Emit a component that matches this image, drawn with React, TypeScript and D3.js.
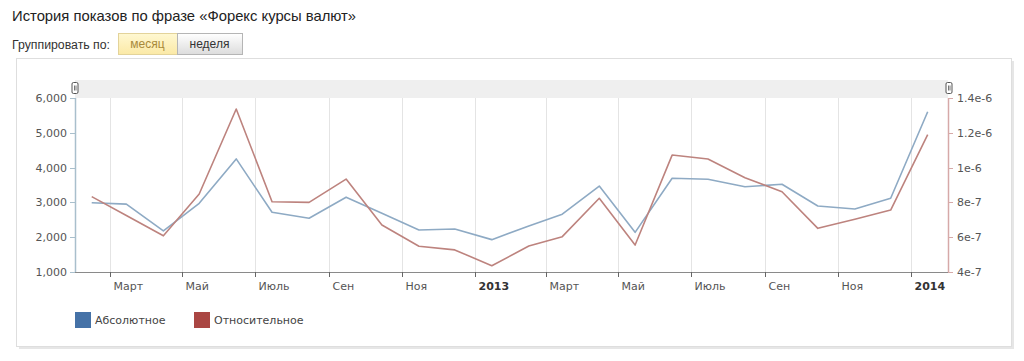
import { useRef, useEffect } from 'react';
import * as d3 from 'd3';

// monthly points, mid-month, Feb 2012 .. Jan 2014
const months = [
  '2012-02', '2012-03', '2012-04', '2012-05', '2012-06', '2012-07', '2012-08', '2012-09',
  '2012-10', '2012-11', '2012-12', '2013-01', '2013-02', '2013-03', '2013-04', '2013-05',
  '2013-06', '2013-07', '2013-08', '2013-09', '2013-10', '2013-11', '2013-12', '2014-01',
];
const absolute = [
  2990, 2950, 2180, 2975, 4250, 2715, 2545, 3150,
  2690, 2205, 2235, 1930, 2320, 2660, 3470, 2140,
  3695, 3665, 3450, 3520, 2895, 2810, 3120, 5605,
];
const relative = [
  8.33e-7, 7.25e-7, 6.08e-7, 8.48e-7, 1.337e-6, 8.04e-7, 8.0e-7, 9.34e-7,
  6.7e-7, 5.48e-7, 5.27e-7, 4.36e-7, 5.49e-7, 6.03e-7, 8.24e-7, 5.55e-7,
  1.072e-6, 1.049e-6, 9.42e-7, 8.61e-7, 6.51e-7, 7.03e-7, 7.56e-7, 1.19e-6,
];
const leftTicks = [1000, 2000, 3000, 4000, 5000, 6000];
const rightTicks = [4e-7, 6e-7, 8e-7, 1e-6, 1.2e-6, 1.4e-6];
const xTicks = [
  '2012-03', '2012-05', '2012-07', '2012-09', '2012-11', '2013-01',
  '2013-03', '2013-05', '2013-07', '2013-09', '2013-11', '2014-01',
];
const monthNames = ['Янв', 'Фев', 'Март', 'Апр', 'Май', 'Июнь', 'Июль', 'Авг', 'Сен', 'Окт', 'Ноя', 'Дек'];
const seriesNames = ['Абсолютное', 'Относительное'];
const legendColors = ['#4572A7', '#AA4643'];

const W = 1024;
const H = 361;
const M = { left: 75, right: 948, top: 98, bottom: 272 };
const tickFont = 'Verdana, "DejaVu Sans", sans-serif';

export default function App() {
  const svgRef = useRef<SVGSVGElement>(null);

  useEffect(() => {
    if (!svgRef.current) return;
    const svg = d3.select(svgRef.current);
    svg.selectAll('*').remove();

    const parse = d3.utcParse('%Y-%m');
    const mid = (s: string) => d3.utcDay.offset(parse(s)!, 14);

    const x = d3.scaleUtc()
      .domain([parse('2012-02')!, parse('2014-02')!])
      .range([M.left, M.right]);
    const yL = d3.scaleLinear().domain([1000, 6000]).range([M.bottom, M.top]);
    const yR = d3.scaleLinear().domain([4e-7, 1.4e-6]).range([M.bottom, M.top]);

    // defs
    const defs = svg.append('defs');
    const g1 = defs.append('linearGradient').attr('id', 'btnOn').attr('x1', 0).attr('x2', 0).attr('y1', 0).attr('y2', 1);
    g1.append('stop').attr('offset', '0%').attr('stop-color', '#fff8d2');
    g1.append('stop').attr('offset', '100%').attr('stop-color', '#fbe9a6');
    const g2 = defs.append('linearGradient').attr('id', 'btnOff').attr('x1', 0).attr('x2', 0).attr('y1', 0).attr('y2', 1);
    g2.append('stop').attr('offset', '0%').attr('stop-color', '#ffffff');
    g2.append('stop').attr('offset', '100%').attr('stop-color', '#dcdcdc');

    svg.append('rect').attr('width', W).attr('height', H).attr('fill', '#fff');

    // header
    svg.append('text').attr('x', 12).attr('y', 21)
      .attr('font-family', 'Arial, "Liberation Sans", sans-serif').attr('font-size', 14.8).attr('fill', '#222')
      .text('История показов по фразе «Форекс курсы валют»');
    svg.append('text').attr('x', 12).attr('y', 49)
      .attr('font-family', 'Arial, "Liberation Sans", sans-serif').attr('font-size', 12.3).attr('fill', '#333')
      .text('Группировать по:');

    const buttons = [
      { label: 'месяц', x0: 118, x1: 177, fill: 'url(#btnOn)', stroke: '#e3d39a', color: '#a88a3a' },
      { label: 'неделя', x0: 177, x1: 242, fill: 'url(#btnOff)', stroke: '#b5b5b5', color: '#333' },
    ];
    buttons.forEach(b => {
      svg.append('rect').attr('x', b.x0 + 0.5).attr('y', 33.5).attr('width', b.x1 - b.x0).attr('height', 21)
        .attr('fill', b.fill).attr('stroke', b.stroke);
      svg.append('text').attr('x', (b.x0 + b.x1) / 2).attr('y', 48).attr('text-anchor', 'middle')
        .attr('font-family', 'Arial, "Liberation Sans", sans-serif').attr('font-size', 12).attr('fill', b.color)
        .text(b.label);
    });

    // container box with soft shadow
    svg.append('rect').attr('x', 19).attr('y', 61).attr('width', 995).attr('height', 288).attr('fill', '#e6e6e6');
    svg.append('rect').attr('x', 16.5).attr('y', 58.5).attr('width', 995).attr('height', 288)
      .attr('fill', '#fff').attr('stroke', '#dedede');

    // navigator band
    svg.append('rect').attr('x', M.left).attr('y', 80).attr('width', M.right - M.left).attr('height', M.top - 80)
      .attr('fill', '#efefef');

    // vertical grid
    svg.append('g').selectAll('line').data(xTicks).enter().append('line')
      .attr('x1', d => Math.round(x(parse(d)!)) + 0.5).attr('x2', d => Math.round(x(parse(d)!)) + 0.5)
      .attr('y1', M.top).attr('y2', M.bottom)
      .attr('stroke', '#e4e4e4').attr('stroke-width', 1);

    // bottom axis
    svg.append('line').attr('x1', M.left).attr('x2', M.right).attr('y1', M.bottom + 0.5).attr('y2', M.bottom + 0.5)
      .attr('stroke', '#8a8a8a');
    const xt = svg.append('g').selectAll('g').data(xTicks).enter().append('g')
      .attr('transform', d => `translate(${Math.round(x(parse(d)!)) + 0.5},${M.bottom})`);
    xt.append('line').attr('y1', 0).attr('y2', 5).attr('stroke', '#666');
    xt.append('text').attr('x', 3).attr('y', 18)
      .attr('font-family', tickFont).attr('font-size', 11)
      .attr('font-weight', d => (d.endsWith('-01') ? 'bold' : 'normal'))
      .attr('fill', d => (d.endsWith('-01') ? '#333' : '#555'))
      .text(d => {
        const dt = parse(d)!;
        return dt.getUTCMonth() === 0 ? String(dt.getUTCFullYear()) : monthNames[dt.getUTCMonth()];
      });

    // left axis
    svg.append('line').attr('x1', M.left + 0.5).attr('x2', M.left + 0.5).attr('y1', M.top).attr('y2', M.bottom)
      .attr('stroke', '#a9bfcc').attr('stroke-width', 1.5);
    const lt = svg.append('g').selectAll('g').data(leftTicks).enter().append('g')
      .attr('transform', d => `translate(${M.left},${Math.round(yL(d)) + 0.5})`);
    lt.append('line').attr('x1', -5).attr('x2', 0).attr('stroke', '#a9bfcc');
    lt.append('text').attr('x', -8).attr('dy', '0.35em').attr('text-anchor', 'end')
      .attr('font-family', tickFont).attr('font-size', 11).attr('fill', '#555')
      .text(d => d3.format(',')(d));

    // right axis
    svg.append('line').attr('x1', M.right + 0.5).attr('x2', M.right + 0.5).attr('y1', M.top).attr('y2', M.bottom)
      .attr('stroke', '#d6a9a8').attr('stroke-width', 1.5);
    const rt = svg.append('g').selectAll('g').data(rightTicks).enter().append('g')
      .attr('transform', d => `translate(${M.right},${Math.round(yR(d)) + 0.5})`);
    rt.append('line').attr('x1', 0).attr('x2', 5).attr('stroke', '#d6a9a8');
    rt.append('text').attr('x', 9).attr('dy', '0.35em')
      .attr('font-family', tickFont).attr('font-size', 11).attr('fill', '#555')
      .text(d => {
        const [m, e] = d.toExponential().split('e');
        return `${+(+m).toFixed(1)}e${e}`;
      });

    // handles
    [M.left, M.right + 1].forEach(hx => {
      svg.append('rect').attr('x', hx - 3).attr('y', 82.5).attr('width', 6).attr('height', 11).attr('rx', 1.5)
        .attr('fill', '#fff').attr('stroke', '#555');
      svg.append('line').attr('x1', hx - 0.5).attr('x2', hx - 0.5).attr('y1', 85.5).attr('y2', 90.5).attr('stroke', '#777');
      svg.append('line').attr('x1', hx + 1).attr('x2', hx + 1).attr('y1', 85.5).attr('y2', 90.5).attr('stroke', '#777');
    });

    // series
    const lineAbs = d3.line<number>().x((_, i) => x(mid(months[i]))).y(d => yL(d));
    const lineRel = d3.line<number>().x((_, i) => x(mid(months[i]))).y(d => yR(d));
    svg.append('path').attr('d', lineAbs(absolute)).attr('fill', 'none')
      .attr('stroke', '#8eaac4').attr('stroke-width', 1.6).attr('stroke-linejoin', 'round');
    svg.append('path').attr('d', lineRel(relative)).attr('fill', 'none')
      .attr('stroke', '#bd837e').attr('stroke-width', 1.6).attr('stroke-linejoin', 'round');

    // legend
    const legendX = [75, 194];
    seriesNames.forEach((name, i) => {
      svg.append('rect').attr('x', legendX[i]).attr('y', 312).attr('width', 16).attr('height', 16)
        .attr('fill', legendColors[i]);
      svg.append('text').attr('x', legendX[i] + 20).attr('y', 324)
        .attr('font-family', tickFont).attr('font-size', 11).attr('fill', '#444')
        .text(name);
    });
  }, []);

  return (
    <div style={{ position: 'absolute', left: 0, top: 0, width: W, height: H }}>
      <svg ref={svgRef} width={W} height={H} style={{ display: 'block' }} />
    </div>
  );
}
